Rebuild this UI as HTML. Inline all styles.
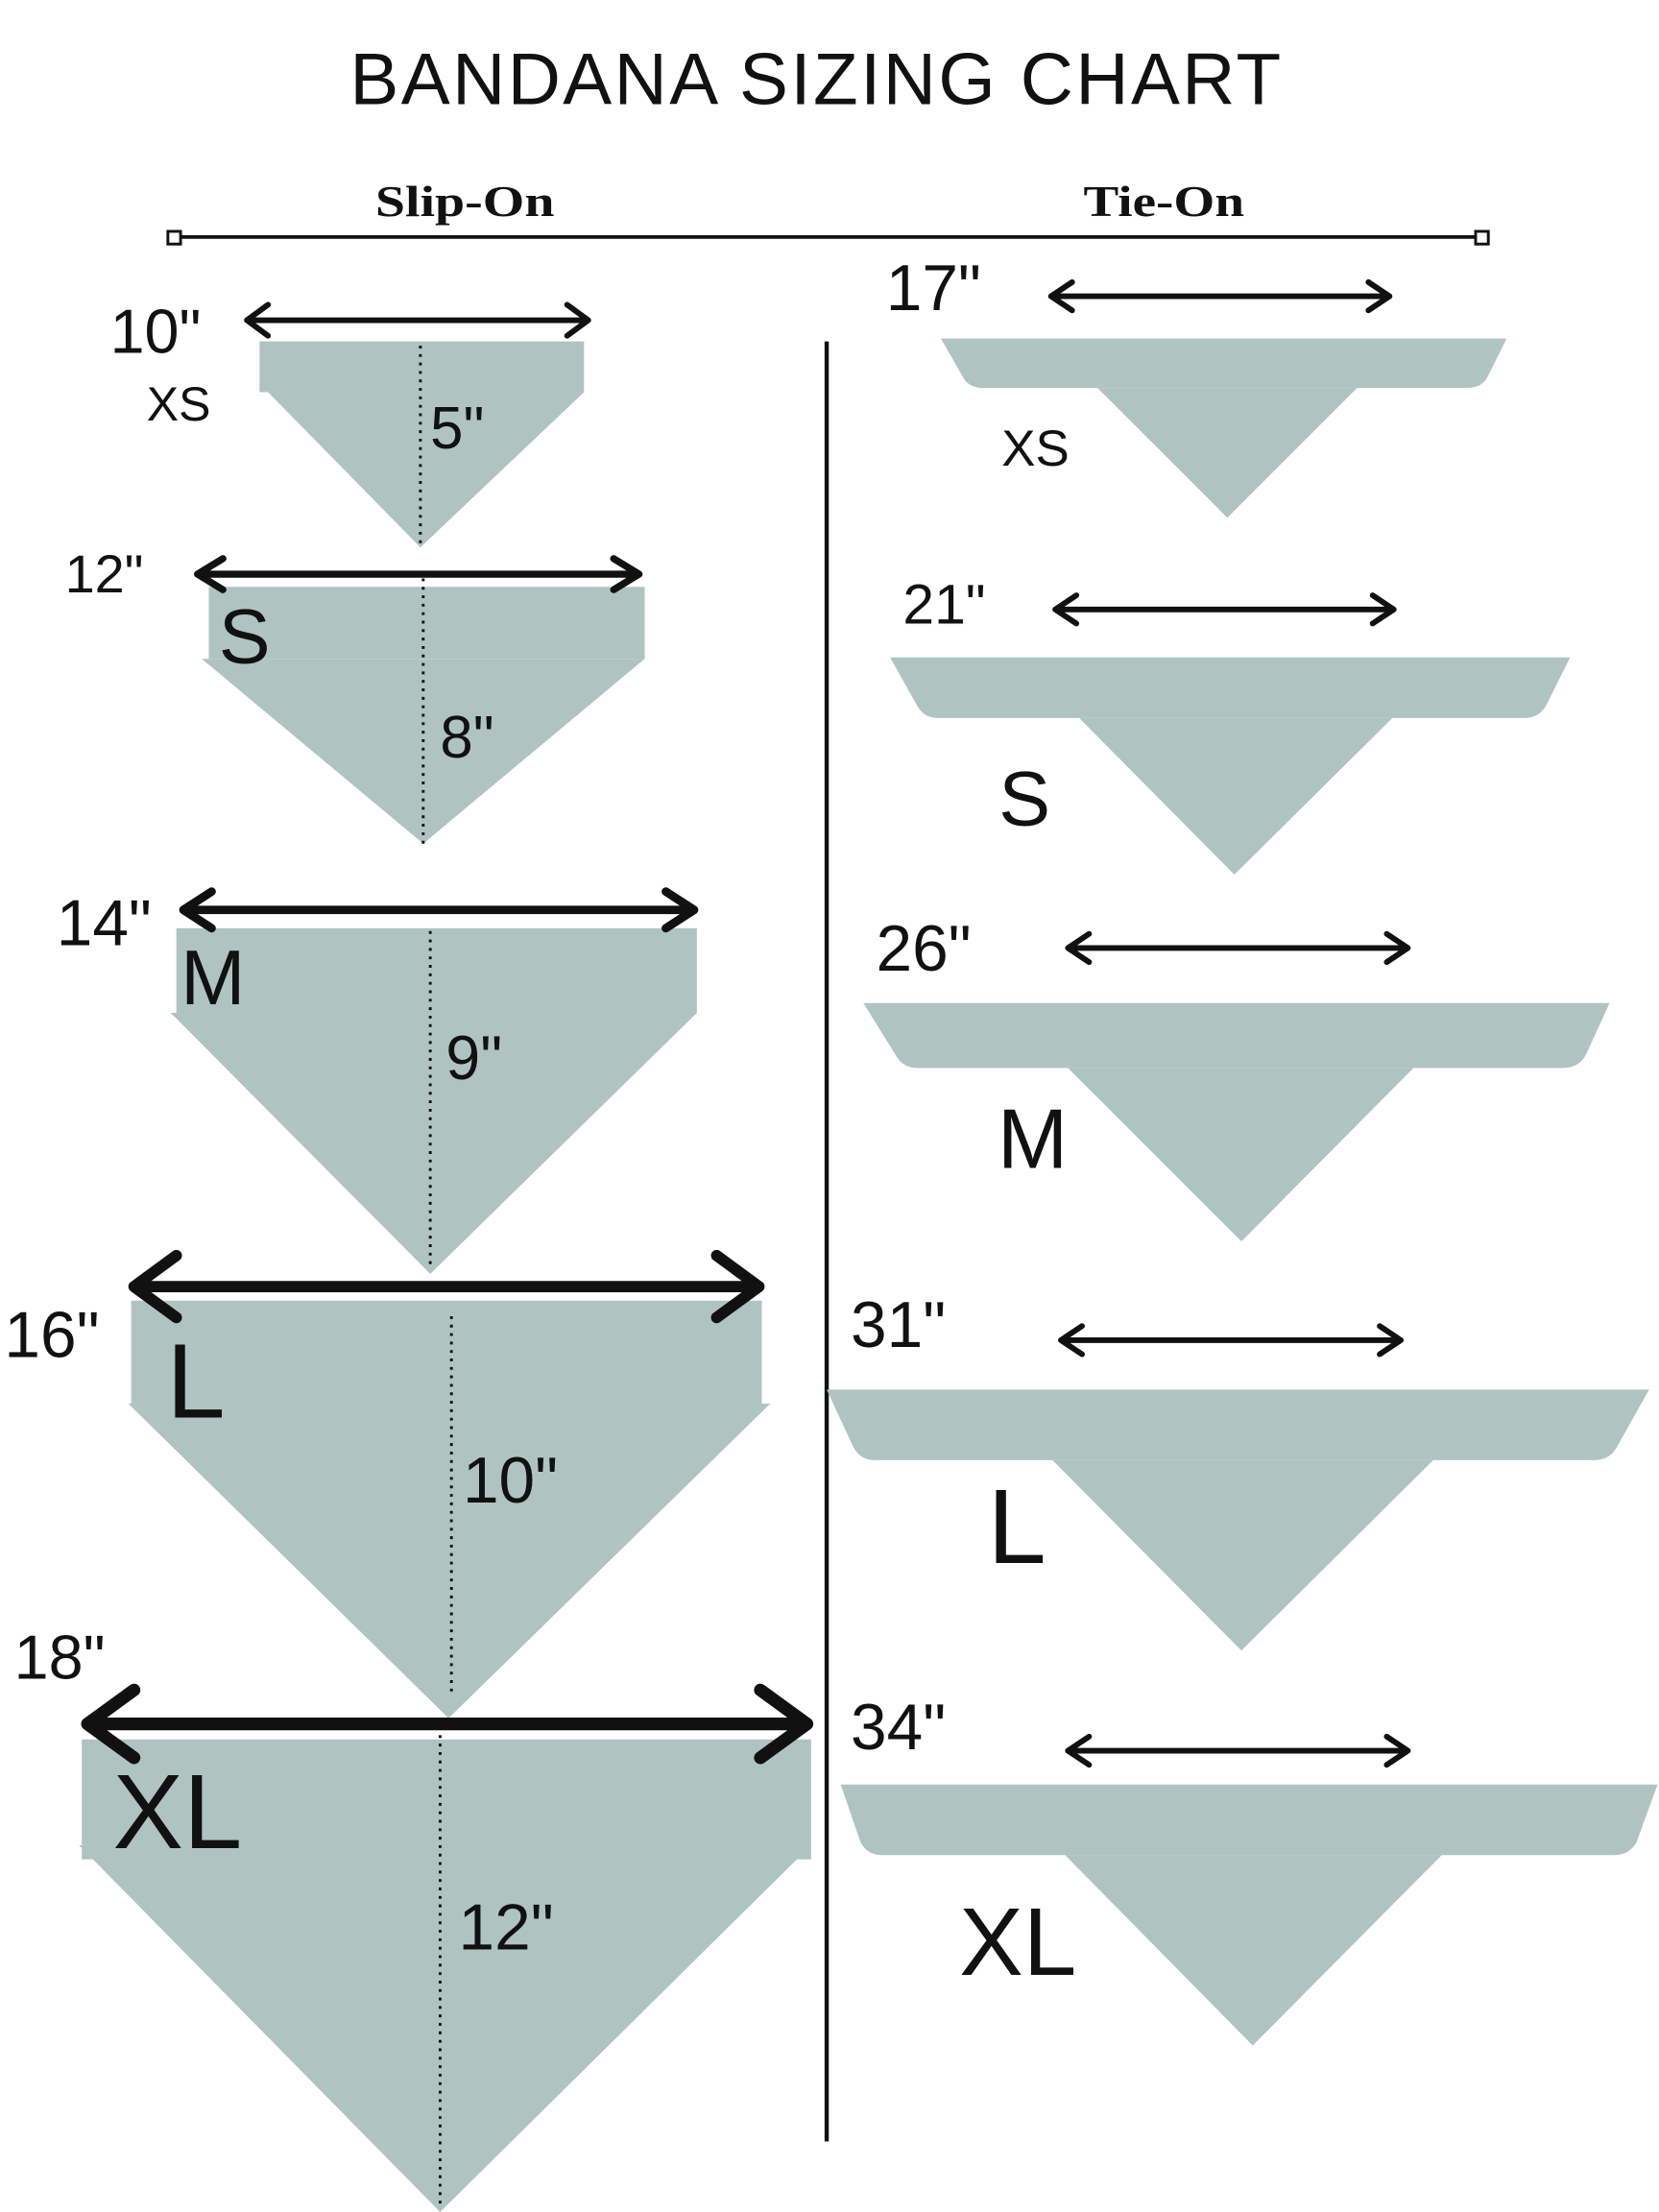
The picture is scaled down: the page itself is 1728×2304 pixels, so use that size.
<!DOCTYPE html>
<html><head><meta charset="utf-8"><style>
html,body{margin:0;padding:0;background:#fff}
svg{display:block}
text{font-family:"Liberation Sans",sans-serif;fill:#111}
</style></head><body>
<svg width="1728" height="2304" viewBox="0 0 1176 1568" xmlns="http://www.w3.org/2000/svg">
<rect width="1176" height="1568" fill="#fff"/>
<text x="248" y="74" font-size="52" textLength="660" lengthAdjust="spacing" style="font-family:'Liberation Sans Narrow','Liberation Sans',sans-serif">BANDANA SIZING CHART</text>
<text x="266" y="153" font-size="31" font-weight="bold" textLength="127" lengthAdjust="spacingAndGlyphs" style="font-family:'Liberation Serif',serif">Slip-On</text>
<text x="768" y="153" font-size="31" font-weight="bold" textLength="114" lengthAdjust="spacingAndGlyphs" style="font-family:'Liberation Serif',serif">Tie-On</text>
<line x1="124" y1="168" x2="1051" y2="168" stroke="#111" stroke-width="2.5"/>
<rect x="119" y="164" width="9" height="9" fill="#fff" stroke="#111" stroke-width="2"/>
<rect x="1046" y="164" width="9" height="9" fill="#fff" stroke="#111" stroke-width="2"/>
<line x1="586" y1="242" x2="586" y2="1518" stroke="#111" stroke-width="3"/>

<g fill="#afc4c0">
<rect x="184" y="242" width="230" height="36"/><polygon points="190,278 414,278 298,388"/>
<rect x="148" y="416" width="309" height="51"/><polygon points="143,467 457,467 300,598"/>
<rect x="125" y="658" width="369" height="60"/><polygon points="121,718 494,718 305,903"/>
<rect x="93" y="922" width="447" height="73"/><polygon points="91,995 546,995 318,1218"/>
<rect x="58" y="1233" width="517" height="85"/><polygon points="56,1308 575,1308 312,1568"/>

<path d="M667,240 L1068,240 L1054,268 Q1050,275 1040,275 L697,275 Q687,275 683,268 Z"/><polygon points="778,275 962,275 870,367"/>
<path d="M631,466 L1113,466 L1096,500 Q1091,509 1080,509 L665,509 Q655,509 650,500 Z"/><polygon points="765,509 987,509 875,620"/>
<path d="M612,711 L1141,711 L1124,748 Q1119,757 1108,757 L650,757 Q640,757 635,748 Z"/><polygon points="757,757 1002,757 880,880"/>
<path d="M586,985 L1169,985 L1146,1026 Q1141,1035 1130,1035 L620,1035 Q610,1035 605,1026 Z"/><polygon points="746,1035 1016,1035 880,1170"/>
<path d="M596,1265 L1175,1265 L1160,1306 Q1155,1315 1144,1315 L625,1315 Q615,1315 610,1306 Z"/><polygon points="755,1315 1022,1315 888,1450"/>
</g>

<g stroke="#111" stroke-width="2" stroke-dasharray="2,4" fill="none">
<line x1="298" y1="245" x2="298" y2="385"/>
<line x1="300" y1="410" x2="300" y2="598"/>
<line x1="305" y1="660" x2="305" y2="900"/>
<line x1="320" y1="933" x2="320" y2="1200"/>
<line x1="312" y1="1230" x2="312" y2="1565"/>
</g>

<g stroke="#111" fill="none" stroke-linecap="round" stroke-linejoin="round">
<g stroke-width="4">
<path d="M175,227 H417 M190,216 L175,227 L190,238 M402,216 L417,227 L402,238"/>
<path d="M745,210 H985 M760,200 L745,210 L760,220 M970,200 L985,210 L970,220"/>
<path d="M748,432 H988 M763,422 L748,432 L763,442 M973,422 L988,432 L973,442"/>
<path d="M757,672 H998 M772,662 L757,672 L772,682 M983,662 L998,672 L983,682"/>
<path d="M752,950 H993 M767,940 L752,950 L767,960 M978,940 L993,950 L978,960"/>
<path d="M757,1241 H998 M772,1231 L757,1241 L772,1251 M983,1231 L998,1241 L983,1251"/>
</g>
<path stroke-width="5" d="M140,407 H453 M158,396 L140,407 L158,418 M435,396 L453,407 L435,418"/>
<path stroke-width="6" d="M130,645 H492 M150,632 L130,645 L150,658 M472,632 L492,645 L472,658"/>
<path stroke-width="8" d="M95,912 H538 M125,890 L95,912 L125,934 M508,890 L538,912 L508,934"/>
<path stroke-width="9" d="M62,1222 H572 M95,1198 L62,1222 L95,1246 M539,1198 L572,1222 L539,1246"/>
</g>

<g>
<text x="78" y="250" font-size="44">10"</text>
<text x="104" y="298" font-size="34">XS</text>
<text x="305" y="318" font-size="42">5"</text>
<text x="46" y="420" font-size="38">12"</text>
<text x="155" y="470" font-size="55">S</text>
<text x="312" y="537" font-size="42">8"</text>
<text x="40" y="670" font-size="46">14"</text>
<text x="128" y="712" font-size="55">M</text>
<text x="316" y="765" font-size="44">9"</text>
<text x="3" y="962" font-size="46">16"</text>
<text x="118" y="1005" font-size="75">L</text>
<text x="328" y="1065" font-size="46">10"</text>
<text x="10" y="1190" font-size="44">18"</text>
<text x="80" y="1310" font-size="75">XL</text>
<text x="325" y="1382" font-size="46">12"</text>

<text x="628" y="220" font-size="46">17"</text>
<text x="710" y="330" font-size="36">XS</text>
<text x="640" y="442" font-size="40">21"</text>
<text x="708" y="585" font-size="55">S</text>
<text x="621" y="688" font-size="46">26"</text>
<text x="707" y="828" font-size="60">M</text>
<text x="603" y="955" font-size="46">31"</text>
<text x="700" y="1108" font-size="75">L</text>
<text x="603" y="1240" font-size="46">34"</text>
<text x="680" y="1400" font-size="68">XL</text>
</g>
</svg>
</body></html>
